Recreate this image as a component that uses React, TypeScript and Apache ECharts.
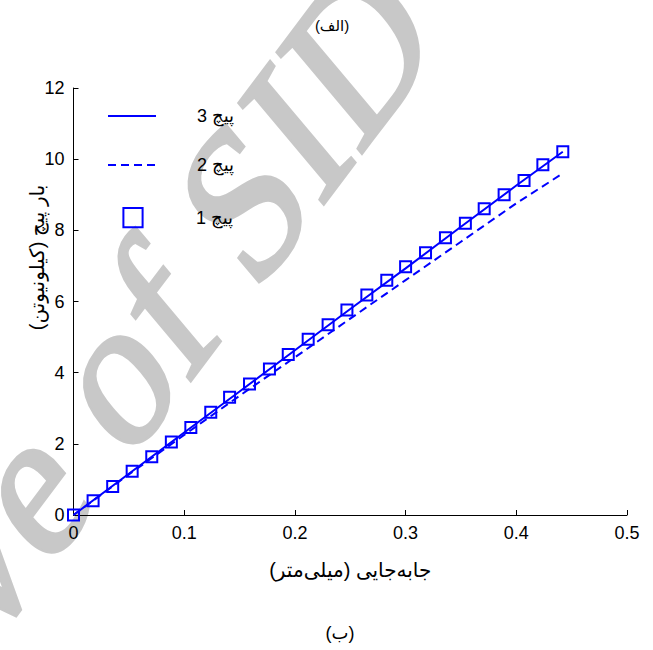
import { useEffect, useRef } from 'react';
import * as echarts from 'echarts';

const RLM = '\u200F';
const rtl = (s: string) => RLM + s + RLM;

// Screw 1 (square markers)
const xMarkers = [0, 0.0177, 0.0354, 0.053, 0.0707, 0.0884, 0.106, 0.124, 0.141, 0.159, 0.177, 0.194, 0.212, 0.23, 0.247, 0.265, 0.283, 0.3, 0.318, 0.336, 0.354, 0.371, 0.389, 0.407, 0.424, 0.442];
const screw1 = [0, 0.4, 0.8, 1.23, 1.64, 2.05, 2.46, 2.89, 3.31, 3.68, 4.1, 4.51, 4.94, 5.35, 5.76, 6.18, 6.6, 6.98, 7.37, 7.79, 8.2, 8.61, 9.0, 9.4, 9.84, 10.21];
// Screw 3 (solid) and screw 2 (dashed)
const xLines = [0, 0.05, 0.1, 0.15, 0.2, 0.25, 0.3, 0.35, 0.4, 0.442];
const screw3 = [0, 1.16, 2.32, 3.47, 4.63, 5.79, 6.93, 8.1, 9.26, 10.21];
const screw2 = [0, 1.14, 2.25, 3.35, 4.43, 5.52, 6.6, 7.68, 8.76, 9.6];

const seriesNames = ['3 پیچ', '2 پیچ', '1 پیچ'];
const xAxisName = 'جابه‌جایی (میلی‌متر)';
const yAxisName = 'بار پیچ (کیلونیوتن)';
const topCaption = '(الف)';
const bottomCaption = '(ب)';
const watermark = 'Archive of SID';

const BLUE = '#0000ff';
const FONT = "'Liberation Sans', Arial, 'DejaVu Sans', sans-serif";

// italic slant done as rotation·scale·rotation (2x2 SVD of a shear)
function slantedTextTransform(angleDeg: number, slantDeg: number) {
  const k = Math.tan((slantDeg * Math.PI) / 180);
  const a = 1, b = -k, c = 0, d = 1;
  const E = (a + d) / 2, F = (a - d) / 2, G = (c + b) / 2, H = (c - b) / 2;
  const Q = Math.sqrt(E * E + H * H), R = Math.sqrt(F * F + G * G);
  const a1 = Math.atan2(G, F), a2 = Math.atan2(H, E);
  const theta = (a2 - a1) / 2, phi = (a2 + a1) / 2;
  return { groupRotation: (angleDeg * Math.PI) / 180 - phi, scaleX: Q + R, scaleY: Q - R, textRotation: -theta };
}

export default function App() {
  const ref = useRef<HTMLDivElement>(null);
  useEffect(() => {
    if (!ref.current) return;
    const chart = echarts.init(ref.current, null, { renderer: 'svg' });
    const zip = (xs: number[], ys: number[]) => xs.map((x, i) => [x, ys[i]]);
    const legendText = { color: '#000', fontSize: 18, fontFamily: FONT, padding: [0, 0, 0, 36] };
    const hidden = { color: 'transparent', borderColor: 'transparent', borderWidth: 0 };
    const wm = slantedTextTransform(53, 13);
    chart.setOption({
      animation: false,
      backgroundColor: '#fff',
      textStyle: { fontFamily: FONT },
      grid: { left: 73.5, right: 26, top: 88, bottom: 135, containLabel: false },
      xAxis: {
        type: 'value', min: 0, max: 0.5, interval: 0.1,
        name: rtl(xAxisName), nameLocation: 'middle', nameGap: 45,
        nameTextStyle: { fontSize: 20, color: '#000', fontFamily: FONT },
        axisLine: { show: true, lineStyle: { color: '#000', width: 1 } },
        axisTick: { show: true, inside: true, length: 5, lineStyle: { color: '#000' } },
        axisLabel: { color: '#000', fontSize: 18, margin: 9, fontFamily: FONT },
        splitLine: { show: false },
      },
      yAxis: {
        type: 'value', min: 0, max: 12, interval: 2,
        name: rtl(yAxisName), nameLocation: 'middle', nameGap: 27, nameRotate: 90, nameMoveOverlap: false,
        nameTextStyle: { fontSize: 20, color: '#000', fontFamily: FONT, padding: [0, 0, 0, 88] },
        axisLine: { show: true, lineStyle: { color: '#000', width: 1 } },
        axisTick: { show: true, inside: true, length: 5, lineStyle: { color: '#000' } },
        axisLabel: { color: '#000', fontSize: 18, margin: 9, fontFamily: FONT },
        splitLine: { show: false },
      },
      legend: [
        { data: [{ name: seriesNames[0], itemStyle: hidden }], left: 107, top: 107, padding: 0, itemWidth: 48, itemHeight: 20, selectedMode: false, textStyle: legendText },
        { data: [{ name: seriesNames[1], itemStyle: hidden }], left: 107, top: 156, padding: 0, itemWidth: 48, itemHeight: 20, selectedMode: false, textStyle: legendText },
        {
          data: [{ name: seriesNames[2], itemStyle: { color: 'transparent', borderColor: BLUE, borderWidth: 2 } }],
          left: 109, top: 207, padding: 0, itemWidth: 48, itemHeight: 24, selectedMode: false, textStyle: { ...legendText, padding: [0, 0, 0, 34] },
        },
      ],
      graphic: [
        {
          type: 'group', z: -10, silent: true,
          x: 400, y: -7, rotation: wm.groupRotation, scaleX: wm.scaleX, scaleY: wm.scaleY,
          children: [
            {
              type: 'text', z: -10, silent: true, x: 0, y: 0, rotation: wm.textRotation,
              style: {
                text: watermark, font: '195px "Liberation Serif", "DejaVu Serif", serif',
                fill: '#c8c8c8', stroke: '#c8c8c8', lineWidth: 4, align: 'right', verticalAlign: 'middle',
              },
            },
          ],
        },
        { type: 'text', x: 332, y: 25, style: { text: rtl(topCaption), fontSize: 15, fill: '#000', fontFamily: FONT, align: 'center', verticalAlign: 'middle' } },
        { type: 'text', x: 340, y: 633, style: { text: rtl(bottomCaption), fontSize: 18, fill: '#000', fontFamily: FONT, align: 'center', verticalAlign: 'middle' } },
      ],
      series: [
        {
          name: seriesNames[0], type: 'line', data: zip(xLines, screw3), symbol: 'none',
          lineStyle: { color: BLUE, width: 2, type: 'solid' }, itemStyle: { color: BLUE }, z: 3,
        },
        {
          name: seriesNames[1], type: 'line', data: zip(xLines, screw2), symbol: 'none',
          lineStyle: { color: BLUE, width: 2, type: [8, 5] }, itemStyle: { color: BLUE }, z: 2,
        },
        {
          name: seriesNames[2], type: 'line', data: zip(xMarkers, screw1), symbol: 'rect', symbolSize: 11,
          lineStyle: { width: 0, opacity: 0 },
          itemStyle: { color: 'transparent', borderColor: BLUE, borderWidth: 2 }, z: 4,
        },
      ],
    });
    return () => chart.dispose();
  }, []);
  return <div ref={ref} style={{ position: 'fixed', left: 0, top: 0, width: 653, height: 650 }} />;
}
